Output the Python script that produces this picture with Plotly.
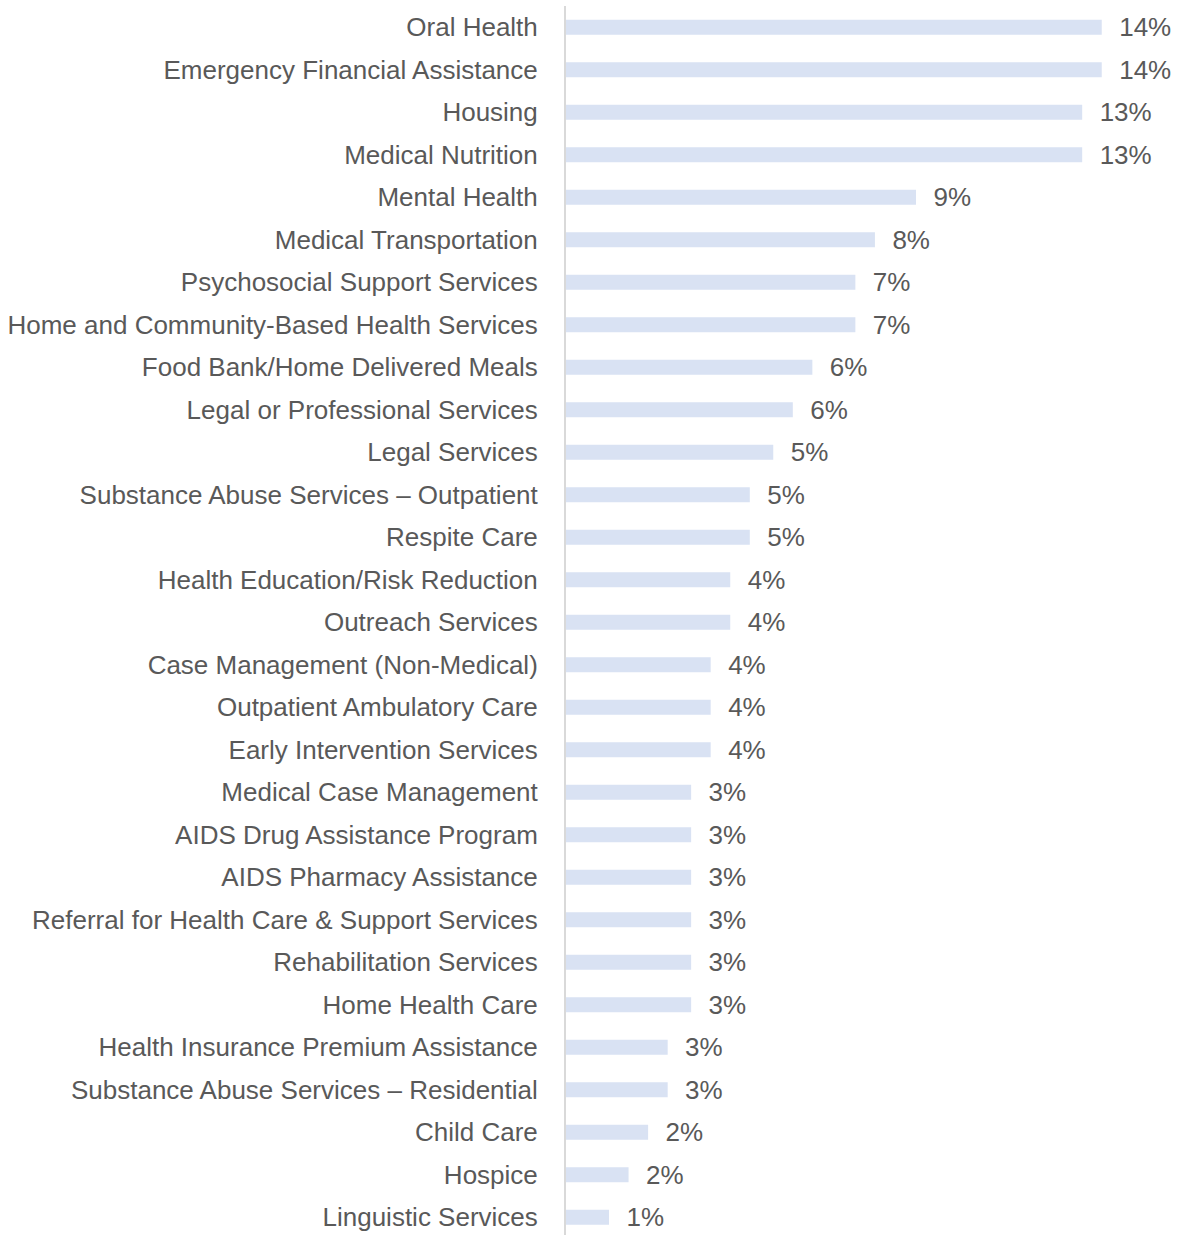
import plotly.graph_objects as go

categories = [
    "Oral Health",
    "Emergency Financial Assistance",
    "Housing",
    "Medical Nutrition",
    "Mental Health",
    "Medical Transportation",
    "Psychosocial Support Services",
    "Home and Community-Based Health Services",
    "Food Bank/Home Delivered Meals",
    "Legal or Professional Services",
    "Legal Services",
    "Substance Abuse Services – Outpatient",
    "Respite Care",
    "Health Education/Risk Reduction",
    "Outreach Services",
    "Case Management (Non-Medical)",
    "Outpatient Ambulatory Care",
    "Early Intervention Services",
    "Medical Case Management",
    "AIDS Drug Assistance Program",
    "AIDS Pharmacy Assistance",
    "Referral for Health Care & Support Services",
    "Rehabilitation Services",
    "Home Health Care",
    "Health Insurance Premium Assistance",
    "Substance Abuse Services – Residential",
    "Child Care",
    "Hospice",
    "Linguistic Services",
]

values_pct = [
    13.7, 13.7, 13.2, 13.2, 8.95, 7.9, 7.4, 7.4, 6.3, 5.8,
    5.3, 4.7, 4.7, 4.2, 4.2, 3.7, 3.7, 3.7, 3.2, 3.2,
    3.2, 3.2, 3.2, 3.2, 2.6, 2.6, 2.1, 1.6, 1.1,
]

FONT = "Liberation Sans Narrow, Liberation Sans, Arial, sans-serif"
TEXT_COLOR = "#595959"
FONT_SIZE = 26

fig = go.Figure(
    go.Bar(
        x=values_pct,
        y=categories,
        orientation="h",
        marker=dict(color="#D9E2F3", line=dict(width=0)),
        texttemplate="\u00a0\u00a0%{x:.0f}%",
        textposition="outside",
        constraintext="none",
        cliponaxis=False,
        textfont=dict(family=FONT, size=FONT_SIZE, color=TEXT_COLOR),
        hoverinfo="skip",
    )
)

fig.update_layout(
    width=1178,
    height=1235,
    margin=dict(l=566, r=0, t=6, b=0, autoexpand=False),
    paper_bgcolor="white",
    plot_bgcolor="white",
    bargap=0.647,
    showlegend=False,
    font=dict(family=FONT, size=FONT_SIZE, color=TEXT_COLOR),
)

fig.update_xaxes(
    range=[0, 15.65],
    visible=False,
    showgrid=False,
    zeroline=False,
)

fig.update_yaxes(
    categoryorder="array",
    categoryarray=categories,
    range=[28.42, -0.5],
    automargin=False,
    showline=True,
    linecolor="#D9D9D9",
    linewidth=2,
    showgrid=False,
    zeroline=False,
    ticks="",
    ticklabelstandoff=21,
    tickfont=dict(family=FONT, size=FONT_SIZE, color=TEXT_COLOR),
)

fig.write_html(
    "out.html",
    config={"displayModeBar": False},
    post_script="document.body.style.margin='0';document.body.style.overflow='hidden';",
)
